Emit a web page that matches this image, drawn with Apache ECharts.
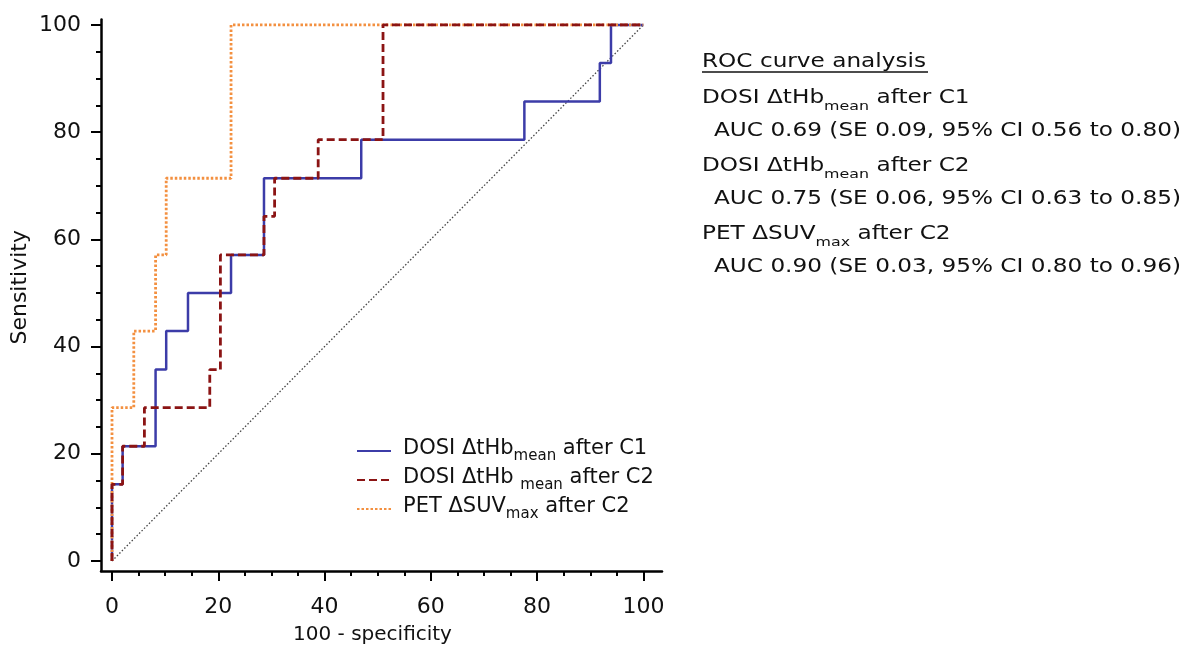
<!DOCTYPE html>
<html>
<head>
<meta charset="utf-8">
<title>ROC curves</title>
<script src="https://cdn.jsdelivr.net/npm/echarts@6.0.0/dist/echarts.min.js"></script>
<style>
html,body{margin:0;padding:0;background:#fff;}
#main{width:1190px;height:656px;}
</style>
</head>
<body>
<div id="main"></div>
<script>
// ROC points [100-specificity, sensitivity] (step curves)
var dosiC1 = [[0,0],[2.0,14.3],[8.2,21.4],[10.2,35.7],[14.3,42.9],[22.4,50],[28.6,57.1],[46.9,71.4],[77.6,78.6],[91.8,85.7],[93.9,92.9],[100,100]];
var dosiC2 = [[0,0],[2.0,14.3],[6.1,21.4],[18.4,28.6],[20.4,35.7],[28.6,57.1],[30.6,64.3],[38.8,71.4],[51.0,78.6],[100,100]];
var petC2  = [[0,0],[4.1,28.6],[8.2,42.9],[10.2,57.1],[22.4,71.4],[100,100]];
var chance = [[0,0],[100,100]];

var majorTicks = [0,20,40,60,80,100];
var minorTicks = [5,10,15,25,30,35,45,50,55,65,70,75,85,90,95];

// legend names split as [text, subscript, text]
var legendParts = [
  ['DOSI ΔtHb','mean',' after C1'],
  ['DOSI ΔtHb ','mean',' after C2'],
  ['PET ΔSUV','max',' after C2']
];
var panelTitle = 'ROC curve analysis';
var panelHeads = [
  ['DOSI ΔtHb','mean',' after C1'],
  ['DOSI ΔtHb','mean',' after C2'],
  ['PET ΔSUV','max',' after C2']
];
var aucTexts = [
  'AUC 0.69 (SE 0.09, 95% CI 0.56 to 0.80)',
  'AUC 0.75 (SE 0.06, 95% CI 0.63 to 0.85)',
  'AUC 0.90 (SE 0.03, 95% CI 0.80 to 0.96)'
];

var names = legendParts.map(function(p){ return p.join(''); });
var colors = ['#3c3ca8','#8b1414','#f39040'];
var FONT = 'DejaVu Sans';

function richName(p){
  return '{n|' + p[0] + '}{s|' + p[1] + '}{n|' + p[2] + '}';
}
var richStyle = {
  n:{fontFamily:FONT, fontSize:21, color:'#111', verticalAlign:'bottom', padding:[0,0,5,0]},
  s:{fontFamily:FONT, fontSize:15, color:'#111', verticalAlign:'bottom'}
};

var chart = echarts.init(document.getElementById('main'));

var xMin = -2.07, xMax = 103.5, yMin = -1.87, yMax = 101;

function axisBase(min, max){
  return {
    type:'value', min:min, max:max,
    splitLine:{show:false},
    axisLine:{show:true, onZero:false, lineStyle:{color:'#000', width:2.5}},
    axisTick:{show:true, customValues:majorTicks, length:10, lineStyle:{color:'#000', width:2}},
    axisLabel:{customValues:majorTicks, fontFamily:FONT, fontSize:22, color:'#111'}
  };
}
function minorAxis(min, max){
  return {
    type:'value', min:min, max:max,
    splitLine:{show:false},
    axisLine:{show:false, onZero:false},
    axisTick:{show:true, customValues:minorTicks, length:5, lineStyle:{color:'#000', width:2}},
    axisLabel:{show:false}
  };
}

var xMain = axisBase(xMin, xMax);
xMain.position = 'bottom';
xMain.axisLabel.margin = 25;
xMain.name = '100 - specificity';
xMain.nameLocation = 'middle';
xMain.nameGap = 54;
xMain.nameTextStyle = {fontFamily:FONT, fontSize:20, color:'#111', padding:[0,18,0,0]};
var xMinor = minorAxis(xMin, xMax);
xMinor.position = 'bottom';

var yMain = axisBase(yMin, yMax);
yMain.position = 'left';
yMain.axisLabel.margin = 20;
yMain.name = 'Sensitivity';
yMain.nameLocation = 'middle';
yMain.nameGap = 70;
yMain.nameTextStyle = {fontFamily:FONT, fontSize:22, color:'#111', padding:[0,0,0,16]};
var yMinor = minorAxis(yMin, yMax);
yMinor.position = 'left';

function curve(i, data, dash, width, z){
  return {
    name:names[i], type:'line', data:data, step:'start', symbol:'none',
    xAxisIndex:0, yAxisIndex:0, z:z,
    lineStyle:{color:colors[i], width:width, type:dash},
    itemStyle:{color:colors[i]}
  };
}

// right-hand text panel
var panel = [];
var py = 62, step = 34;
panel.push({type:'text', x:702, y:py, scaleX:1.22,
  style:{text:panelTitle, fontFamily:FONT, fontSize:19, fill:'#111', verticalAlign:'middle'}});
panel.push({type:'line', shape:{x1:702, y1:72, x2:928, y2:72}, style:{stroke:'#111', lineWidth:1.5}});
for (var i = 0; i < 3; i++) {
  panel.push({type:'text', x:702, y:py + 5 + step*(1+2*i), scaleX:1.22,
    style:{text:richName(panelHeads[i]), fontFamily:FONT, fontSize:19, fill:'#111', verticalAlign:'middle',
      rich:{
        n:{fontFamily:FONT, fontSize:19, fill:'#111', verticalAlign:'bottom', padding:[0,0,5,0]},
        s:{fontFamily:FONT, fontSize:13, fill:'#111', verticalAlign:'bottom'}
      }}});
  panel.push({type:'text', x:714, y:py + 1 + step*(2+2*i), scaleX:1.22,
    style:{text:aucTexts[i], fontFamily:FONT, fontSize:19, fill:'#111', verticalAlign:'middle'}});
}

var option = {
  animation:false,
  backgroundColor:'#fff',
  grid:{left:101, right:528, top:19.6, bottom:85, containLabel:false},
  xAxis:[xMain, xMinor],
  yAxis:[yMain, yMinor],
  legend:{
    data:names, orient:'vertical', left:356, top:438, itemGap:3, padding:0,
    itemWidth:34, itemHeight:14,
    itemStyle:{opacity:0},
    formatter:function(name){ return richName(legendParts[names.indexOf(name)]); },
    textStyle:{fontFamily:FONT, fontSize:21, color:'#111', padding:[0,0,0,7], rich:richStyle}
  },
  graphic:panel,
  series:[
    {name:'chance', type:'line', data:chance, symbol:'none', silent:true, z:1,
     lineStyle:{color:'#444', width:1.3, type:[1.5,2]}},
    curve(0, dosiC1, 'solid', 2.5, 2),
    curve(2, petC2, [2.5,2], 2.8, 3),
    curve(1, dosiC2, [8,4], 2.8, 4)
  ]
};
chart.setOption(option);
</script>
</body>
</html>
